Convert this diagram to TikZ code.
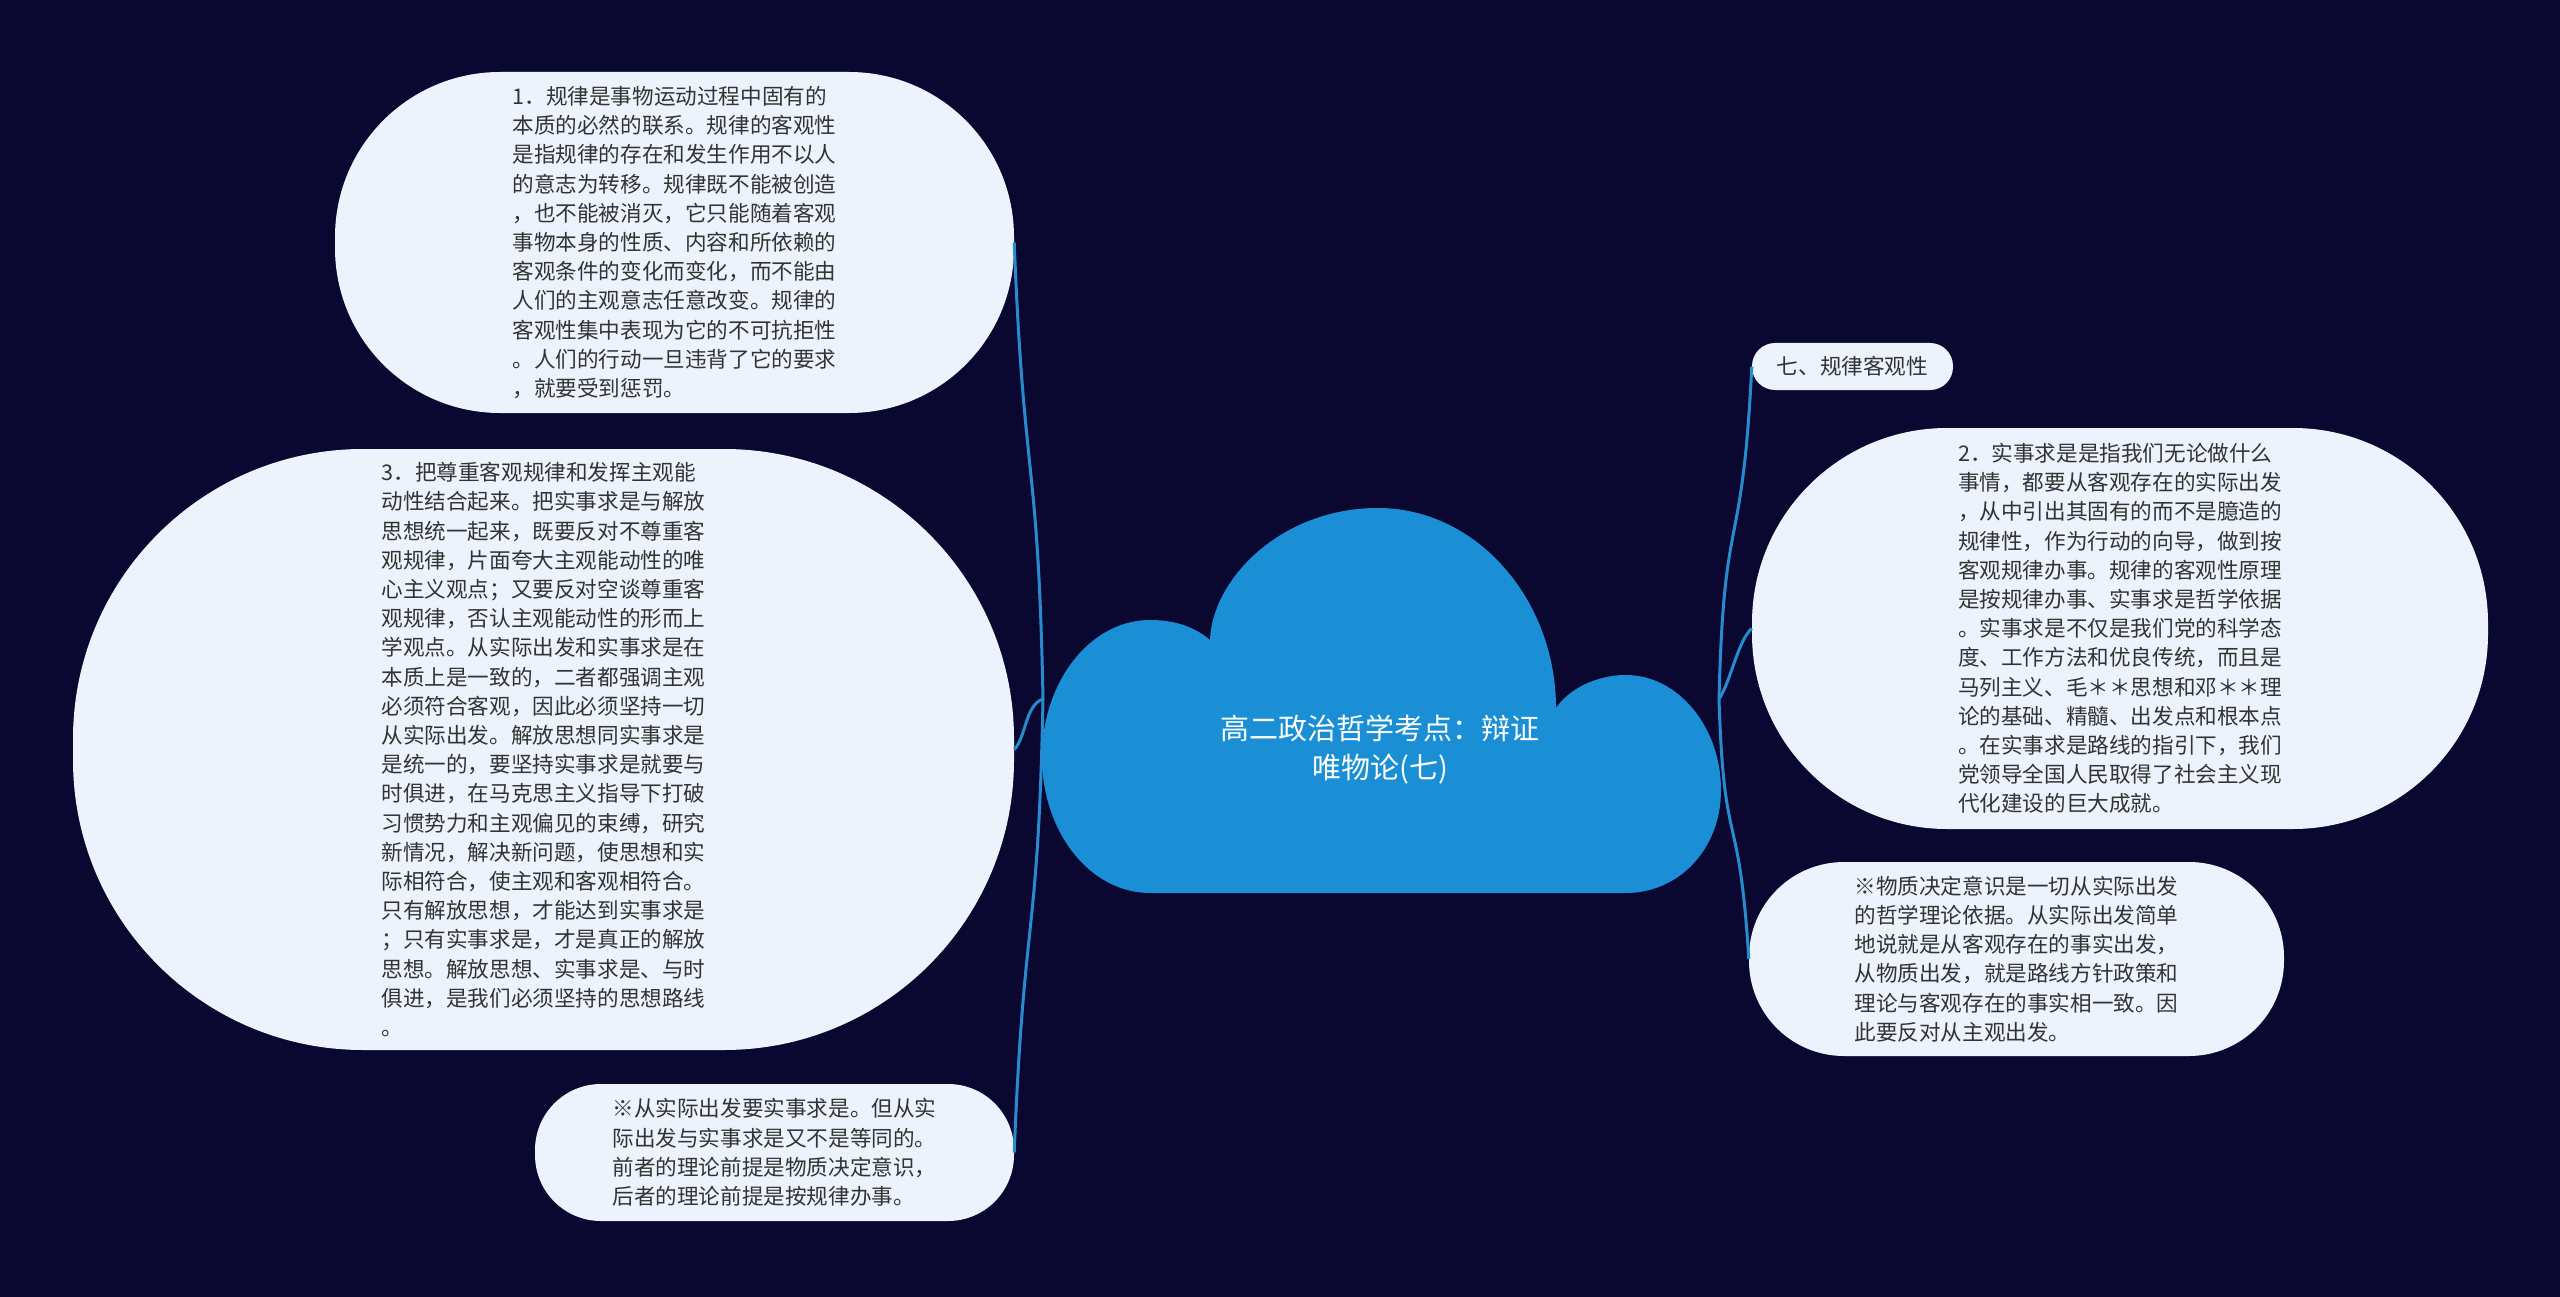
\documentclass[tikz,border=0pt]{standalone}
\usepackage{fontspec}
\usepackage{tikz}
\usetikzlibrary{positioning,calc}
\newfontfamily\cjk{Noto Sans CJK SC}
\definecolor{bgnavy}{RGB}{10,7,48}
\definecolor{cloudblue}{RGB}{26,143,213}
\definecolor{leafbg}{RGB}{237,243,253}
\definecolor{linkc}{RGB}{38,140,208}
\definecolor{inkc}{RGB}{51,51,51}

\begin{document}
\begin{tikzpicture}[x=1pt,y=-1pt,
  leaf/.style={fill=leafbg,text=inkc,align=left,inner sep=0pt,
    font=\cjk\fontsize{21.6}{29.2}\selectfont},
  link/.style={draw=linkc,line width=3pt}]

% background
\fill[bgnavy] (0,0) rectangle (2560,1297);
\useasboundingbox (0,0) rectangle (2560,1297);

% central cloud
\fill[cloudblue] (1150,893) -- (1626,893)
  .. controls (1678,893) and (1721,850) .. (1721,790)
  .. controls (1721,727) and (1678,675) .. (1626,675)
  .. controls (1595,675) and (1568,690) .. (1556,708)
  .. controls (1556,600) and (1477,508) .. (1378,508)
  .. controls (1280,508) and (1212,580) .. (1210,640)
  .. controls (1195,627) and (1175,620) .. (1150,620)
  .. controls (1090,620) and (1042,682) .. (1042,757)
  .. controls (1042,832) and (1090,893) .. (1150,893) -- cycle;
\node[font=\cjk\fontsize{29}{39}\selectfont,text=white,align=center]
  (title) at (1380,750) {高二政治哲学考点：辩证\\唯物论(七)};
\coordinate (lj) at (1043,699);
\coordinate (rj) at (1719,699);

% left branches
\node[leaf,minimum width=679,minimum height=341,rounded corners=165pt]
  (law) at (674.5,242.5) {1．规律是事物运动过程中固有的\\本质的必然的联系。规律的客观性\\是指规律的存在和发生作用不以人\\的意志为转移。规律既不能被创造\\，也不能被消灭，它只能随着客观\\事物本身的性质、内容和所依赖的\\客观条件的变化而变化，而不能由\\人们的主观意志任意改变。规律的\\客观性集中表现为它的不可抗拒性\\。人们的行动一旦违背了它的要求\\，就要受到惩罚。};
\node[leaf,minimum width=941,minimum height=601,rounded corners=290pt]
  (unite) at (543.5,749.5) {3．把尊重客观规律和发挥主观能\\动性结合起来。把实事求是与解放\\思想统一起来，既要反对不尊重客\\观规律，片面夸大主观能动性的唯\\心主义观点；又要反对空谈尊重客\\观规律，否认主观能动性的形而上\\学观点。从实际出发和实事求是在\\本质上是一致的，二者都强调主观\\必须符合客观，因此必须坚持一切\\从实际出发。解放思想同实事求是\\是统一的，要坚持实事求是就要与\\时俱进，在马克思主义指导下打破\\习惯势力和主观偏见的束缚，研究\\新情况，解决新问题，使思想和实\\际相符合，使主观和客观相符合。\\只有解放思想，才能达到实事求是\\；只有实事求是，才是真正的解放\\思想。解放思想、实事求是、与时\\俱进，是我们必须坚持的思想路线\\。};
\node[leaf,minimum width=479,minimum height=137,rounded corners=66pt]
  (note1) at (774.5,1152.5) {※从实际出发要实事求是。但从实\\际出发与实事求是又不是等同的。\\前者的理论前提是物质决定意识，\\后者的理论前提是按规律办事。};

% right branches
\node[leaf,minimum width=201,minimum height=47,rounded corners=23pt]
  (topic) at (1852.5,366.5) {七、规律客观性};
\node[leaf,minimum width=736,minimum height=401,rounded corners=195pt]
  (truth) at (2120,628.5) {2．实事求是是指我们无论做什么\\事情，都要从客观存在的实际出发\\，从中引出其固有的而不是臆造的\\规律性，作为行动的向导，做到按\\客观规律办事。规律的客观性原理\\是按规律办事、实事求是哲学依据\\。实事求是不仅是我们党的科学态\\度、工作方法和优良传统，而且是\\马列主义、毛＊＊思想和邓＊＊理\\论的基础、精髓、出发点和根本点\\。在实事求是路线的指引下，我们\\党领导全国人民取得了社会主义现\\代化建设的巨大成就。};
\node[leaf,minimum width=535,minimum height=194,rounded corners=95pt]
  (note2) at (2016.5,959) {※物质决定意识是一切从实际出发\\的哲学理论依据。从实际出发简单\\地说就是从客观存在的事实出发，\\从物质出发，就是路线方针政策和\\理论与客观存在的事实相一致。因\\此要反对从主观出发。};

% links
\draw[link] (lj) .. controls +(-5,-250) and +(10,250) .. (law.east);
\draw[link] (lj) .. controls +(-18,6) and +(12,-12) .. (unite.east);
\draw[link] (lj) .. controls +(-5,250) and +(10,-250) .. (note1.east);
\draw[link] (rj) .. controls +(5,-200) and +(-10,200) .. (topic.west);
\draw[link] (rj) .. controls +(12,-18) and +(-14,12) .. (truth.west);
\draw[link] (rj) .. controls +(5,160) and +(-10,-160) .. (note2.west);

\end{tikzpicture}
\end{document}
